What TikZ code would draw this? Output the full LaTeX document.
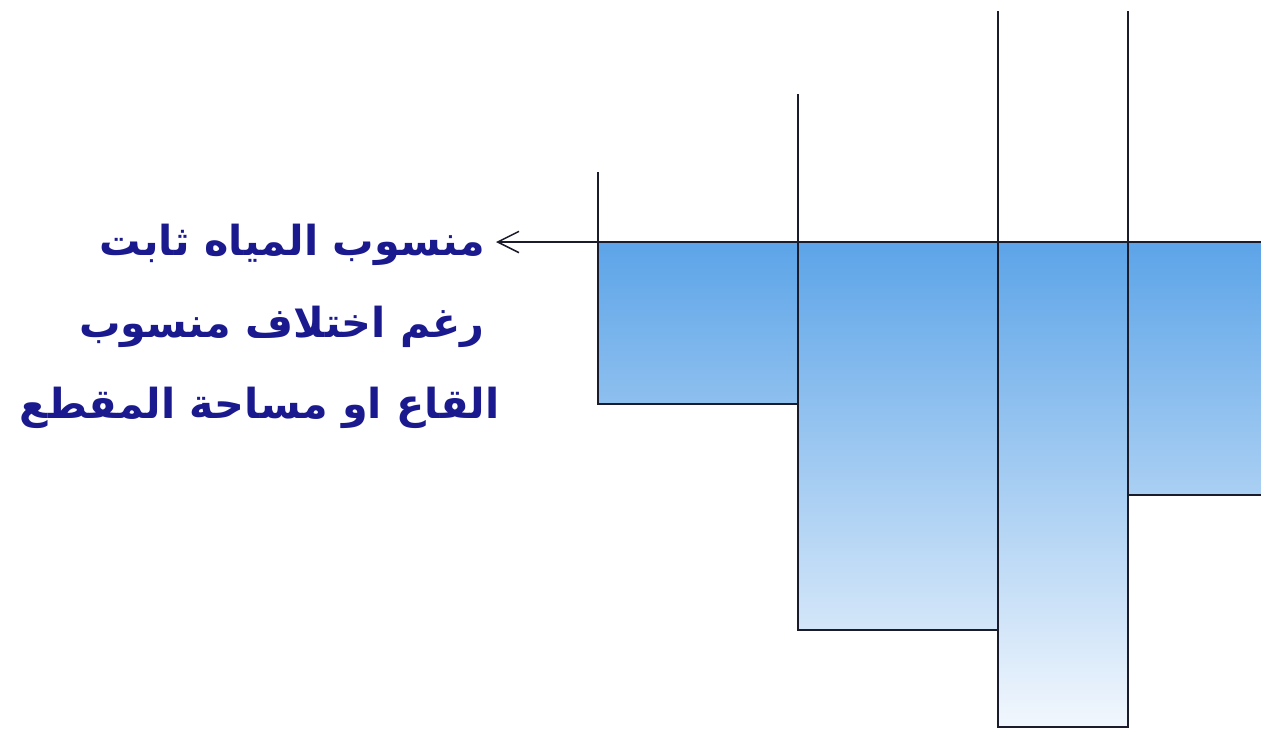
\documentclass[tikz,border=0pt]{standalone}
\usepackage{fontspec}
\usetikzlibrary{arrows.meta}
\newfontfamily\arabicfont[Script=Arabic]{DejaVu Sans}
\TeXXeTstate=1
\definecolor{waterTop}{HTML}{5CA4E8}
\definecolor{waterBot}{HTML}{F2F7FD}
\definecolor{labelBlue}{HTML}{1A1A8E}
\definecolor{edgeDark}{HTML}{1A1C2C}
\tikzset{
  bank/.style={draw=edgeDark,line width=1.6pt,line cap=rect},
  lbl/.style={text=labelBlue,anchor=east,inner sep=0pt,
    font=\arabicfont\bfseries\fontsize{31}{36}\selectfont},
}
\begin{document}
\begin{tikzpicture}[x=0.75pt,y=-0.75pt]
        \useasboundingbox (0,0) rectangle (1261,736);

        % water in the stepped channel
        \shade[top color=waterTop,bottom color=waterBot]
        (598,242) -- (1261,242) -- (1261,495) -- (1128,495) -- (1128,727)
        -- (998,727) -- (998,630) -- (798,630) -- (798,404) -- (598,404) -- cycle;

        \foreach \x/\t/\b in {598/173/404,798/95/630,998/12/727,1128/12/727}
        \draw[bank] (\x,\t) -- (\x,\b);

        \foreach \xa/\xb/\y in {598/798/404,798/998/630,998/1128/727,1128/1261/495}
        \draw[bank] (\xa,\y) -- (\xb,\y);

        % water level
        \coordinate (srf) at (1261,242);
        \coordinate (tip) at (496,242);
        \draw[bank,line cap=butt,-{Straight Barb[length=16pt,width=16pt,line width=1.1pt]}] (srf) -- (tip);

        \node[lbl] (lvl) at (485,245) {\beginR منسوب المياه ثابت\endR};
        \node[lbl] (rsn) at (485,327) {\beginR رغم اختلاف منسوب\endR};
        \node[lbl] (bed) at (500,408) {\beginR القاع او مساحة المقطع\endR};
    \end{tikzpicture}
\end{document}
